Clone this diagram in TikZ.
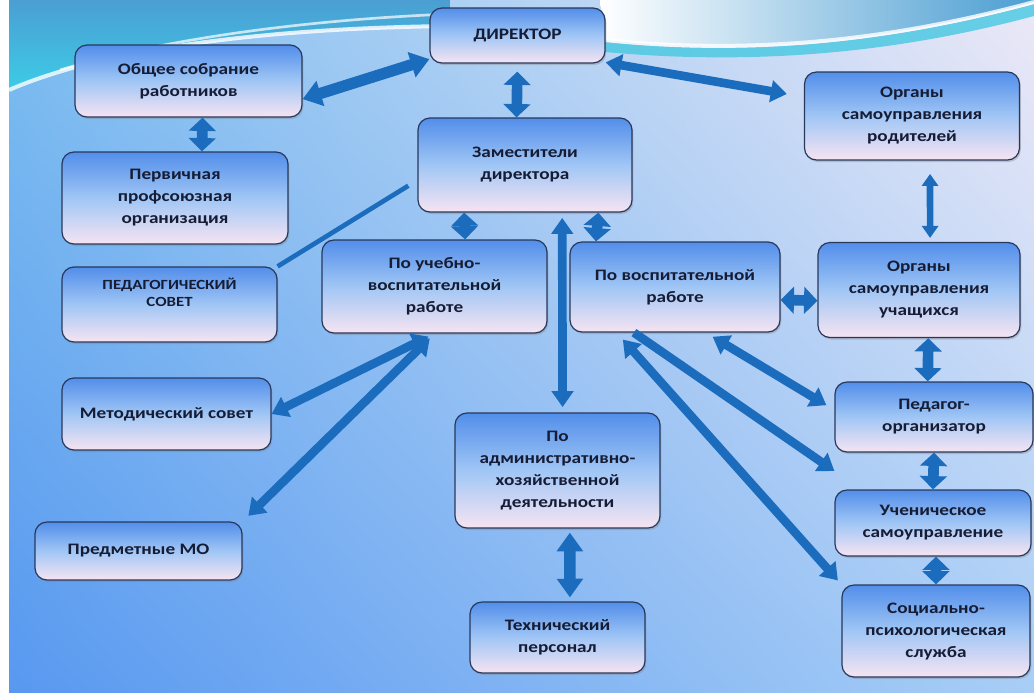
\documentclass[tikz,border=0pt]{standalone}
\usepackage{fontspec}
\newfontfamily\boxfont{Carlito}[FakeStretch=1.2]
\usepackage{tikz}
\usetikzlibrary{arrows.meta}
\usetikzlibrary{shadows}
\usetikzlibrary{shadings}
\usetikzlibrary{calc}

\definecolor{arrowblue}{RGB}{28,108,190}
\definecolor{boxtop}{RGB}{82,142,234}
\definecolor{boxmid}{RGB}{160,198,245}
\definecolor{boxbot}{RGB}{246,228,242}
\definecolor{boxline}{RGB}{40,56,92}
\definecolor{textnavy}{RGB}{22,28,52}
\definecolor{bgul}{RGB}{125,190,240}
\definecolor{bgur}{RGB}{236,232,247}
\definecolor{bgll}{RGB}{88,152,240}
\definecolor{bglr}{RGB}{168,206,246}
\definecolor{swtop}{RGB}{75,158,210}
\definecolor{swbot}{RGB}{60,205,232}
\definecolor{swcyan}{RGB}{70,200,225}

\tikzset{
  box/.style={draw=boxline, line width=0.9pt, rounded corners=9pt,
    top color=boxtop, bottom color=boxbot, middle color=boxmid,
    drop shadow={opacity=0.35, shadow xshift=1pt, shadow yshift=-1.5pt},
    align=center, inner sep=2pt, text=textnavy,
    font=\boxfont\bfseries\fontsize{12}{16.5}\selectfont},
  link/.style={draw=arrowblue, line width=6.5pt, >={Triangle[width=16pt,length=12pt]}, <->},
  onelink/.style={draw=arrowblue, line width=6.5pt, >={Triangle[width=16pt,length=12pt]}, ->},
  widelink/.style={draw=arrowblue, line width=8.5pt, >={Triangle[width=19pt,length=14pt]}, <->},
  fatlink/.style={draw=arrowblue, line width=8pt, >={Triangle[width=20pt,length=10pt]}, <->},
  thinlink/.style={draw=arrowblue, line width=5pt, >={Triangle[width=12pt,length=9pt]}, <->},
  bar/.style={draw=arrowblue, line width=3.5pt}
}

\begin{document}
\begin{tikzpicture}[x=0.75pt,y=0.75pt,yscale=-1,xscale=1]

% Background
\useasboundingbox (0,0) rectangle (1034,697);
\shade[upper left=bgul, upper right=bgur, lower left=bgll, lower right=bglr] (9,0) rectangle (1034,693);
\fill[white] (0,0) rectangle (9,697);
\fill[white] (9,693) rectangle (1034,697);

% Swoosh
\shade[top color=swtop, bottom color=swbot] (9,0) -- (450,0) -- (450,26) .. controls (280,28) and (110,45) .. (9,92) -- cycle;
\shade[left color=white, right color=swtop] (600,0) -- (1034,0) -- (1034,2) .. controls (900,38) and (760,56) .. (605,40) -- cycle;
\fill[swcyan, opacity=0.8] (605,42) .. controls (760,58) and (900,40) .. (1034,4) -- (1034,16) .. controls (900,52) and (760,66) .. (605,52) -- cycle;
\draw[white, line width=3, opacity=0.8] (9,90) .. controls (110,46) and (280,28) .. (450,26);
\draw[white, line width=2, opacity=0.7] (60,70) .. controls (160,40) and (300,20) .. (450,14);
\draw[white, line width=3, opacity=0.8] (605,40) .. controls (760,56) and (900,38) .. (1034,2);

% Boxes
\node[box, minimum width=131.25pt, minimum height=41.25pt] (dir) at (517.5,35.5) {ДИРЕКТОР};
\node[box, minimum width=170.25pt, minimum height=54pt] (ob) at (188.5,81) {Общее собрание\\работников};
\node[box, minimum width=169.5pt, minimum height=69pt] (perv) at (175,198) {Первичная\\профсоюзная\\организация};
\node[box, minimum width=161.25pt, minimum height=56.25pt, text depth=18pt, font=\boxfont\bfseries\fontsize{10.5}{12.5}\selectfont] (ped) at (169.5,304.5) {ПЕДАГОГИЧЕСКИЙ\\СОВЕТ};
\node[box, minimum width=156.75pt, minimum height=54pt] (met) at (166.5,414) {Методический совет};
\node[box, minimum width=155.25pt, minimum height=43.5pt] (pred) at (138.5,551) {Предметные МО};
\node[box, minimum width=160.5pt, minimum height=70.5pt] (zam) at (525,165) {Заместители\\директора};
\node[box, minimum width=168.75pt, minimum height=69.75pt] (ucheb) at (434.5,286.5) {По учебно-\\воспитательной\\работе};
\node[box, minimum width=157.5pt, minimum height=67.5pt] (vosp) at (675,287) {По воспитательной\\работе};
\node[box, minimum width=153.75pt, minimum height=86.25pt] (ahd) at (557.5,470.5) {По\\административно-\\хозяйственной\\деятельности};
\node[box, minimum width=131.25pt, minimum height=53.25pt] (tech) at (557.5,637.5) {Технический\\персонал};
\node[box, minimum width=161.25pt, minimum height=66pt] (rod) at (912,116) {Органы\\самоуправления\\родителей};
\node[box, minimum width=151.5pt, minimum height=71.25pt] (uch) at (919,290) {Органы\\самоуправления\\учащихся};
\node[box, minimum width=148.5pt, minimum height=52.5pt] (org) at (934,417) {Педагог-\\организатор};
\node[box, minimum width=147pt, minimum height=49.5pt] (uchsam) at (933,523) {Ученическое\\самоуправление};
\node[box, minimum width=141pt, minimum height=69pt] (soc) at (936,631) {Социально-\\психологическая\\служба};

% Director links
\draw[widelink] (ob.-9) -- (dir.195);
\draw[fatlink, shorten <=6pt] (dir.south) -- (zam.100);
\draw[link, shorten >=13pt] (dir.-17) -- (rod.170);

% Left column
\draw[fatlink] (ob.-69) -- (perv.60);
\draw[bar, shorten >=8pt] (ped.north east) -- (zam.188);

% Deputies
\draw[fatlink] (zam.218) -- (ucheb.57);
\draw[fatlink] (zam.-33) -- (vosp.150);
\draw[link, shorten <=4pt, shorten >=4pt] (zam.-52) -- (ahd.85);
\draw[widelink, shorten <=3pt, shorten >=3pt] (ahd.-78) -- (tech.71);

% Educational work
\draw[link, shorten <=5pt] (ucheb.south) -- (met.east);
\draw[link, shorten <=5pt, shorten >=6pt] (ucheb.south) -- (pred.north east);

% Upbringing work
\draw[fatlink] (vosp.-7) -- (uch.186);
\draw[link, shorten <=6pt, shorten >=7pt] (vosp.-56) -- (org.176);
\draw[onelink] (vosp.-132) -- ($(org.south west)!0.5!(uchsam.north west)$);
\draw[link, shorten <=7pt, shorten >=4pt] (vosp.-142) -- (soc.north west);

% Right column
\draw[thinlink, shorten <=10pt, shorten >=3pt] (rod.-68) -- (uch.77);
\draw[fatlink] (uch.-79) -- (org.100);
\draw[fatlink] (org.south) -- (uchsam.north);
\draw[fatlink] (uchsam.-85) -- (soc.north);

\end{tikzpicture}
\end{document}
